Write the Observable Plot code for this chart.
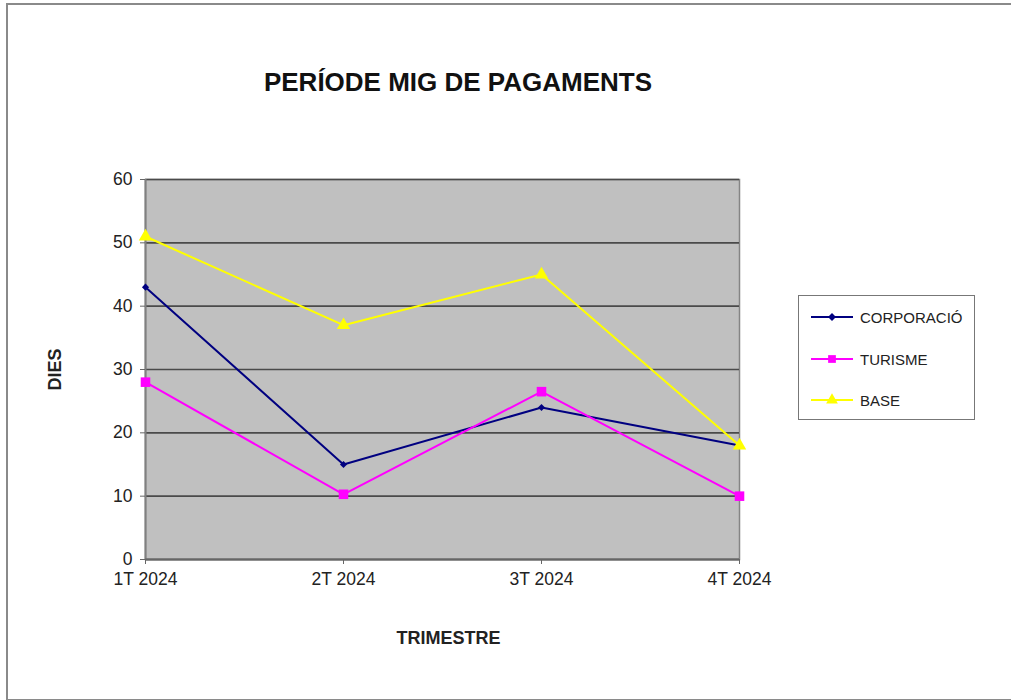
<!DOCTYPE html>
<html>
<head>
<meta charset="utf-8">
<script src="https://cdn.jsdelivr.net/npm/d3@7"></script>
<script src="https://cdn.jsdelivr.net/npm/@observablehq/plot@0.6"></script>
<style>
  html, body { margin: 0; padding: 0; background: #fff; }
  #wrap { position: relative; width: 1011px; height: 700px; overflow: hidden; font-family: "Liberation Sans", Arial, sans-serif; }
  #border { position: absolute; left: 6px; top: 3px; width: 1100px; height: 694px; border-left: 2px solid #8a8a8a; border-top: 2px solid #8a8a8a; border-bottom: 2px solid #8a8a8a; box-sizing: content-box; }
  #title { position: absolute; left: 0; width: 916px; top: 67px; text-align: center; font-weight: bold; font-size: 26px; color: #111; }
  #chart { position: absolute; left: 0; top: 0; }
  #legend { position: absolute; left: 798px; top: 295px; width: 177px; height: 125px; border: 1px solid #777; background: #fff; box-sizing: border-box; }
  .item { position: absolute; left: 12px; height: 20px; display: flex; align-items: center; font-size: 15px; color: #222; }
  .item svg { margin-right: 7px; }
</style>
</head>
<body>
<div id="wrap">
  <div id="border"></div>
  <div id="chart"></div>
  <div id="title">PERÍODE MIG DE PAGAMENTS</div>
  <div id="legend"></div>
</div>
<script>
const categories = ["1T 2024", "2T 2024", "3T 2024", "4T 2024"];
const seriesNames = ["CORPORACIÓ", "TURISME", "BASE"];
const corporacio = [43, 15, 24, 18];
const turisme = [28, 10.3, 26.5, 10];
const base = [51, 37, 45, 18];
const yTicks = [0, 10, 20, 30, 40, 50, 60];

const colors = ["#000080", "#ff00ff", "#ffff00"];
const symbols = ["diamond2", "square", "triangle"];
const sizes = [3.2, 5.4, 5.0];
const seriesValues = [corporacio, turisme, base];

const data = [];
seriesValues.forEach((vals, si) => {
  vals.forEach((v, i) => data.push({series: seriesNames[si], cat: categories[i], value: v}));
});

const marks = [
  Plot.frame({fill: "#c0c0c0", stroke: "#858585", strokeWidth: 1.5}),
  Plot.gridY(yTicks, {stroke: "#4a4a4a", strokeOpacity: 1, strokeWidth: 1.7}),
  Plot.ruleX([categories[0]], {stroke: "#808080", strokeWidth: 2}),
  Plot.ruleY([0], {stroke: "#666", strokeWidth: 2}),
  Plot.axisY({ticks: yTicks, tickSize: 5, tickPadding: 8, fontSize: 17.5, label: "DIES", labelAnchor: "center", labelOffset: 97, labelArrow: "none", stroke: "#666"}),
  Plot.axisX({tickSize: 5, tickPadding: 8, fontSize: 17.5, label: "TRIMESTRE", labelAnchor: "center", labelOffset: 84, labelArrow: "none", stroke: "#666"})
];
seriesNames.forEach((name, si) => {
  const rows = data.filter(d => d.series === name);
  marks.push(Plot.line(rows, {x: "cat", y: "value", stroke: colors[si], strokeWidth: 2}));
  marks.push(Plot.dot(rows, {x: "cat", y: "value", fill: colors[si], stroke: "none", symbol: () => symbols[si], r: sizes[si]}));
});

const chart = Plot.plot({
  width: 1011,
  height: 700,
  marginLeft: 145,
  marginRight: 272,
  marginTop: 179,
  marginBottom: 141,
  style: {fontFamily: "'Liberation Sans', Arial, sans-serif", color: "#222", background: "transparent"},
  x: {type: "point", domain: categories, padding: 0},
  y: {domain: [0, 60]},
  marks
});
document.getElementById("chart").appendChild(chart);

// style axis labels bold
chart.querySelectorAll("g[aria-label='x-axis label'] text, g[aria-label='y-axis label'] text").forEach(t => {
  t.setAttribute("font-weight", "bold");
  t.setAttribute("font-size", "18");
});
const xl = chart.querySelector("g[aria-label='x-axis label']");
if (xl) {
  const g = document.createElementNS("http://www.w3.org/2000/svg", "g");
  g.setAttribute("transform", "translate(6,0)");
  xl.parentNode.insertBefore(g, xl);
  g.appendChild(xl);
}

const legend = document.getElementById("legend");
const ys = [11, 53, 94];
seriesNames.forEach((name, si) => {
  const it = document.createElement("div");
  it.className = "item";
  it.style.top = ys[si] + "px";
  const sym = d3.symbol(si === 0 ? d3.symbolDiamond2 : si === 1 ? d3.symbolSquare : d3.symbolTriangle, si === 0 ? 40 : 60)();
  it.innerHTML = `<svg width="42" height="20"><line x1="0" x2="42" y1="10" y2="10" stroke="${colors[si]}" stroke-width="2"/><path transform="translate(21,10)" d="${sym}" fill="${colors[si]}"/></svg><span>${name}</span>`;
  legend.appendChild(it);
});
</script>
</body>
</html>
